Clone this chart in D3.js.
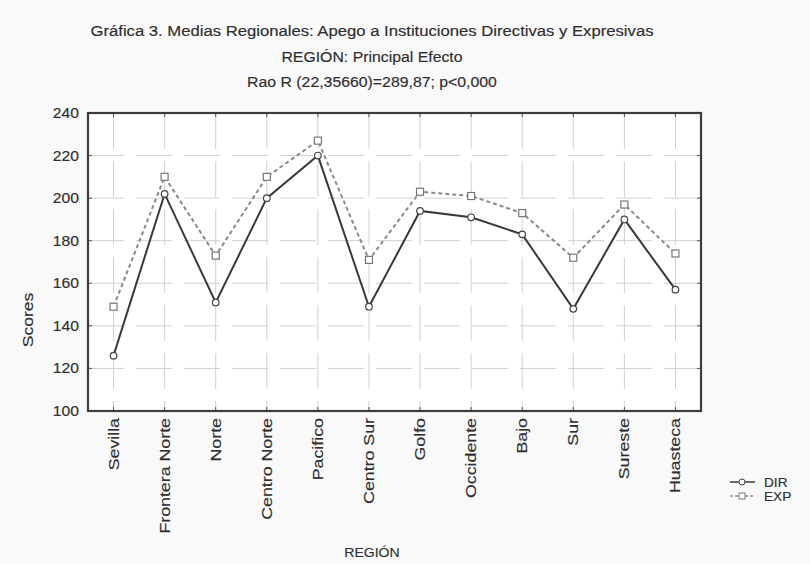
<!DOCTYPE html>
<html><head><meta charset="utf-8">
<script src="https://cdn.jsdelivr.net/npm/d3@7"></script>
<style>body{margin:0;background:#f9f9f9;}svg{display:block;font-family:"Liberation Sans",Arial,sans-serif;}</style>
</head><body><svg id="c" width="810" height="564"></svg>
<script>
const categories = ["Sevilla","Frontera Norte","Norte","Centro Norte","Pacifico","Centro Sur","Golfo","Occidente","Bajo","Sur","Sureste","Huasteca"];
const dirValues = [126,202,151,200,220,149,194,191,183,148,190,157];
const expValues = [149,210,173,210,227,171,203,201,193,172,197,174];
const yTicks = [100,120,140,160,180,200,220,240];
const titleLines = ["Gráfica 3. Medias Regionales: Apego a Instituciones Directivas y Expresivas","REGIÓN: Principal Efecto","Rao R (22,35660)=289,87; p<0,000"];
const seriesNames = ["DIR","EXP"];

const svg = d3.select("#c");
const L=88,R=701,T=113,B=411;
const x = d3.scalePoint().domain(categories).range([L,R]).padding(0.5);
const y = d3.scaleLinear().domain([100,240]).range([B,T]);

function stretch(sel,k){
  sel.each(function(){
    const len=this.getComputedTextLength();
    d3.select(this).attr("textLength",len*k).attr("lengthAdjust","spacingAndGlyphs");
  });
  return sel;
}
function ink(sel){ return sel.attr("fill","#2e2e2e").attr("stroke","#2e2e2e").attr("stroke-width",0.15); }

svg.append("rect").attr("x",L).attr("y",T).attr("width",R-L).attr("height",B-T).attr("fill","#fff");

// grid
const grid = svg.append("g").attr("stroke","#d0d0d0").attr("stroke-width",1).attr("stroke-dasharray","36,12");
grid.selectAll(".gy").data(yTicks.filter(d=>d>100&&d<240)).join("line")
  .attr("x1",L).attr("x2",R).attr("y1",d=>y(d)).attr("y2",d=>y(d));
grid.selectAll(".gx").data(categories).join("line")
  .attr("x1",d=>x(d)).attr("x2",d=>x(d)).attr("y1",T).attr("y2",B);

// inner ticks
const tk = svg.append("g").attr("stroke","#555").attr("stroke-width",1);
categories.forEach(c=>{
  tk.append("line").attr("x1",x(c)).attr("x2",x(c)).attr("y1",B).attr("y2",B-4);
  tk.append("line").attr("x1",x(c)).attr("x2",x(c)).attr("y1",T).attr("y2",T+4);
});
yTicks.forEach(v=>{
  tk.append("line").attr("x1",L).attr("x2",L+4).attr("y1",y(v)).attr("y2",y(v));
  tk.append("line").attr("x1",R).attr("x2",R-4).attr("y1",y(v)).attr("y2",y(v));
});

// y axis labels
ink(stretch(svg.append("g").selectAll("text").data(yTicks).join("text")
  .attr("x",L-9).attr("y",d=>y(d)+5).attr("text-anchor","end")
  .attr("font-size",14).text(d=>d),1.12));

// x labels
ink(stretch(svg.append("g").selectAll("text").data(categories).join("text")
  .attr("transform",d=>`translate(${x(d)+5},${B+7}) rotate(-90)`)
  .attr("text-anchor","end").attr("font-size",14).text(d=>d),1.27));

// lines
const lineGen = vals => d3.line().x((d,i)=>x(categories[i])).y(d=>y(d))(vals);
svg.append("path").attr("d",lineGen(expValues)).attr("fill","none").attr("stroke","#8a8a8a").attr("stroke-width",2).attr("stroke-dasharray","4,3");
svg.append("path").attr("d",lineGen(dirValues)).attr("fill","none").attr("stroke","#3a3a3a").attr("stroke-width",2);

svg.append("g").selectAll("rect").data(expValues).join("rect")
  .attr("x",(d,i)=>x(categories[i])-3.5).attr("y",d=>y(d)-3.5).attr("width",7).attr("height",7)
  .attr("fill","#fff").attr("stroke","#777").attr("stroke-width",1.2);
svg.append("g").selectAll("circle").data(dirValues).join("circle")
  .attr("cx",(d,i)=>x(categories[i])).attr("cy",d=>y(d)).attr("r",3.3)
  .attr("fill","#fff").attr("stroke","#444").attr("stroke-width",1.2);

// frame
svg.append("rect").attr("x",L).attr("y",T).attr("width",R-L).attr("height",B-T)
  .attr("fill","none").attr("stroke","#3d3d3d").attr("stroke-width",2.2);

// titles
const tt = svg.append("g").selectAll("text").data(titleLines).join("text")
  .attr("x",372).attr("y",(d,i)=>36+i*25.5).attr("text-anchor","middle")
  .attr("font-size",14).text(d=>d);
tt.each(function(d,i){ stretch(d3.select(this), i===0?1.19:1.13); });
ink(tt);

ink(stretch(svg.append("text").attr("transform","translate(33,320) rotate(-90)").attr("text-anchor","middle")
  .attr("font-size",14).text("Scores"),1.25));
ink(stretch(svg.append("text").attr("x",372).attr("y",557).attr("text-anchor","middle")
  .attr("font-size",13).text("REGIÓN"),1.08));

// legend
const lg = svg.append("g");
seriesNames.forEach((s,i)=>{
  const yy = 482+i*14;
  lg.append("line").attr("x1",730).attr("x2",755).attr("y1",yy).attr("y2",yy)
    .attr("stroke",i?"#8a8a8a":"#3a3a3a").attr("stroke-width",1.5).attr("stroke-dasharray",i?"3,2":null);
  if(i===0) lg.append("circle").attr("cx",742).attr("cy",yy).attr("r",3).attr("fill","#fff").attr("stroke","#444");
  else lg.append("rect").attr("x",739).attr("y",yy-3).attr("width",6).attr("height",6).attr("fill","#fff").attr("stroke","#777");
  ink(stretch(lg.append("text").attr("x",764).attr("y",yy+5).attr("font-size",13).text(s),1.05));
});
</script></body></html>
